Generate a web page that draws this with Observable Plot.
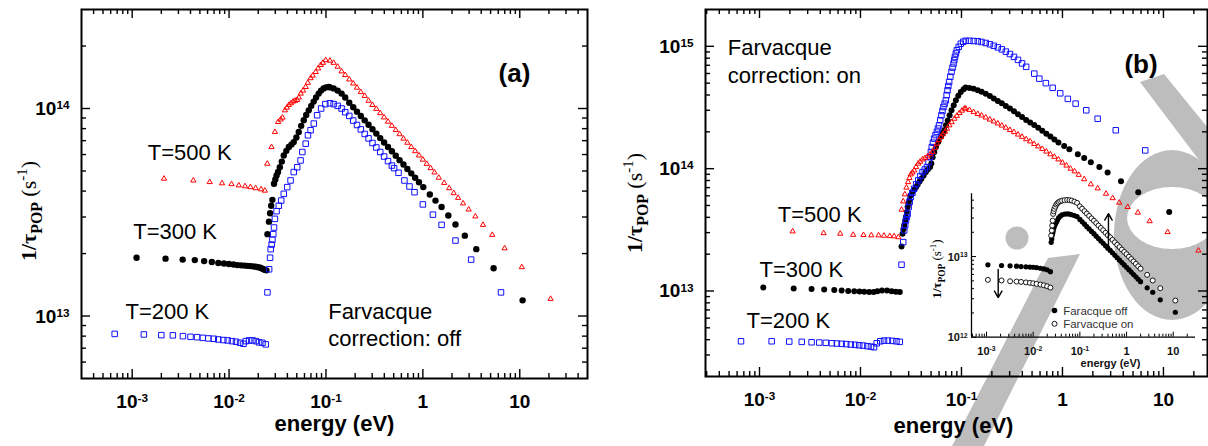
<!DOCTYPE html>
<html>
<head>
<meta charset="utf-8">
<script src="https://cdn.jsdelivr.net/npm/d3@7"></script>
<script src="https://cdn.jsdelivr.net/npm/@observablehq/plot@0.6"></script>
<style>
html,body{margin:0;padding:0;background:#fff;}
#root{position:relative;width:1208px;height:446px;overflow:hidden;background:#fff;}
.panel{position:absolute;top:0;}
#wm{left:0;width:1208px;height:446px;}
#pa{left:0;width:600px;height:446px;}
#pb{left:600px;width:608px;height:446px;}
#pi{left:900px;top:180px;width:300px;height:200px;}
svg{overflow:visible;}
</style>
</head>
<body>
<div id="root">
<svg id="wm" class="panel" width="1208" height="446" aria-hidden="true">
  <g fill="#bdbdbd" stroke="none">
    <circle cx="1017" cy="238" r="11.5"></circle>
    <polygon points="1048,258 1080,254 984,446 952,446"></polygon>
    <path fill-rule="evenodd" d="M1114,235 A58,85 0 1,1 1230,235 A58,85 0 1,1 1114,235 Z M1127,218 A45,31 0 1,0 1217,218 A45,31 0 1,0 1127,218 Z"></path>
    <polygon points="1140,82 1164,74 1208,128 1208,172"></polygon>
  </g>
</svg>
<div id="pa" class="panel"></div><div id="pb" class="panel"></div><div id="pi" class="panel"></div>
</div>
<script>
// ---------- tick values and labels ----------
const xTicks = [1e-3, 1e-2, 1e-1, 1, 10];
const xTickLabels = ["10^-3", "10^-2", "10^-1", "1", "10"];
const aYTicks = [1e13, 1e14];
const aYTickLabels = ["10^13", "10^14"];
const bYTicks = [1e13, 1e14, 1e15];
const bYTickLabels = ["10^13", "10^14", "10^15"];
const iYTicks = [1e12, 1e13];
const iYTickLabels = ["10^12", "10^13"];

// ---------- panel (a): Farvacque correction off (rates in units of 1e13 s^-1) ----------
const a500LoE = [0.00213,0.00428,0.00631,0.00846,0.0106,0.0126,0.0146,0.0166,0.0188,0.0214,0.0234];
const a500LoR = [4.59,4.50,4.42,4.36,4.32,4.26,4.22,4.18,4.13,4.08,4.02];
const a500RiseE = [0.0248,0.0274,0.0297,0.0321,0.0340,0.0356,0.0377,0.0395,0.0414,0.0435,0.0458,0.0480,0.0505,0.0525,0.0549,0.0580,0.0618,0.0650,0.0694,0.0730,0.0783,0.0830,0.0882,0.0930,0.0993];
const a500RiseR = [5.42,6.52,7.71,8.61,8.85,9.04,9.80,10.1,10.4,10.6,10.8,10.9,11.0,11.3,11.8,12.2,12.7,13.3,14.0,14.4,15.0,15.6,16.2,16.6,17.1];
const a500FallR = [17.0,16.6,15.9,15.1,14.5,13.8,13.2,12.6,12.0,11.5,10.9,10.4,9.96,9.50,9.06,8.64,8.25,7.87,7.52,7.16,6.84,6.52,6.23,5.94,5.67,5.41,5.16,4.92];
const a500TailE = [1.46,1.66,1.87,2.08,2.31,2.60,2.97,3.48,4.17,5.20,6.97,10.5,20.8];
const a500TailR = [4.64,4.38,4.13,3.91,3.71,3.49,3.26,3.02,2.75,2.46,2.12,1.72,1.21];

const a300LoE = [0.00111,0.00221,0.00332,0.00443,0.00553,0.00664,0.00775,0.00885,0.00996,0.0111,0.0122,0.0133,0.0144,0.0155,0.0166,0.0177,0.0188,0.0199,0.0210,0.0221,0.0232,0.0243];
const a300LoR = [1.91,1.89,1.87,1.86,1.84,1.82,1.80,1.79,1.78,1.77,1.76,1.755,1.75,1.745,1.74,1.735,1.73,1.72,1.71,1.69,1.67,1.66];
const a300RiseE = [0.0249,0.0258,0.0265,0.0272,0.0280,0.0291,0.0300,0.0309,0.0320,0.0334,0.0350,0.0367,0.0390,0.0414,0.0440,0.0465,0.0495,0.0524,0.0555,0.0590,0.0625,0.0664,0.0705,0.0747,0.0790,0.0841,0.0890,0.0946,0.100,0.107];
const a300RiseR = [2.48,2.85,3.13,3.40,3.63,4.34,4.55,4.76,4.95,5.21,5.55,5.94,6.25,6.52,6.70,6.89,7.25,7.71,8.25,8.78,9.30,9.80,10.3,10.8,11.3,11.8,12.2,12.5,12.65,12.7];
const a300FallR = [12.65,12.5,12.2,11.8,11.3,10.66,10.14,9.66,9.21,8.77,8.35,7.95,7.57,7.20,6.86,6.52,6.22,5.92,5.64,5.37,5.11,4.87,4.64,4.41];
const a300TailE = [1.01,1.18,1.35,1.56,1.83,2.17,2.71,3.56,5.37,10.7];
const a300TailR = [4.18,3.85,3.60,3.35,3.05,2.76,2.44,2.10,1.70,1.19];

const a200LoE = [0.00066,0.00132,0.0020,0.00263,0.00334,0.0040,0.00468,0.00535,0.00611,0.00695,0.00774,0.00873,0.00967,0.0107,0.0118,0.0130,0.0141,0.0149,0.0161,0.0174,0.0189,0.0204,0.0221,0.0239];
const a200LoR = [0.820,0.815,0.809,0.807,0.800,0.794,0.791,0.785,0.780,0.777,0.771,0.766,0.763,0.757,0.752,0.743,0.735,0.757,0.763,0.763,0.757,0.747,0.743,0.730];
const a200RiseE = [0.0249,0.0259,0.0265,0.0269,0.0275,0.0280,0.0286,0.0291,0.0297,0.0309,0.0326,0.0345,0.0367,0.0398,0.0431,0.0465,0.0505,0.0547,0.0570,0.0618,0.0652,0.0694,0.0749,0.0811,0.0891,0.0985];
const a200RiseR = [1.30,1.68,1.91,2.10,2.21,2.33,2.48,2.67,2.94,3.20,3.40,3.60,3.88,4.18,4.50,4.94,5.21,5.62,6.17,6.77,7.43,7.86,8.46,9.28,10.0,10.5];
const a200FallR = [10.6,10.5,10.3,10.0,9.6,9.21,8.75,8.33,7.93,7.54,7.18,6.82,6.49,6.17,5.87,5.58,5.31];
const a200TailE = [0.505,0.561,0.645,0.728,0.82,1.0,1.27,1.56,2.17,3.15,6.4];
const a200TailR = [5.16,4.90,4.50,4.21,3.95,3.45,3.08,2.75,2.31,1.87,1.30];

// shared energy grid (eV) for the falling parts of the main curves
const fallE = [0.110,0.120,0.132,0.145,0.158,0.174,0.191,0.209,0.229,0.251,0.275,0.302,0.331,0.363,0.398,0.437,0.479,0.525,0.575,0.631,0.692,0.759,0.832,0.912,1.000,1.096,1.202,1.318];

// ---------- panel (b): Farvacque correction on (units of 1e13 s^-1) ----------
const b500LoE = [0.00213,0.00431,0.0063,0.00847,0.0107,0.0128,0.0151,0.0171,0.0195,0.0215,0.0237];
const b500LoR = [3.07,2.97,2.94,2.88,2.87,2.85,2.85,2.83,2.81,2.80,2.75];
const b500RiseE = [0.0255,0.0265,0.0275,0.0285,0.0296,0.0305,0.0315,0.0327,0.0340,0.0355,0.0373,0.0390,0.0412,0.0435,0.0461,0.0490,0.0518,0.0545,0.0571,0.0600,0.0627,0.0655,0.0688,0.0720,0.0759,0.0800,0.0852,0.0900,0.0955,0.101,0.107];
const b500RiseR = [4.62,5.4,6.17,7.0,7.76,8.4,8.98,9.3,9.68,10.3,11.0,11.4,11.9,12.2,12.6,13.1,13.7,14.8,16.0,17.1,18.2,19.1,20.0,21.2,22.6,24.0,25.6,27.0,28.5,29.8,31.0];
const b500FallR = [31.0,30.2,29.0,28.0,27.2,26.2,25.2,24.3,23.4,22.5,21.6,20.7,19.9,19.0,18.2,17.4,16.7,15.9,15.2,14.5,13.8,13.1,12.5,11.9,11.2,10.6,10.0,9.5];
const b500TailE = [1.45,1.64,1.91,2.23,2.70,3.14,3.65,4.42,5.58,7.31,11.0,22.2];
const b500TailR = [8.9,8.2,7.45,6.9,6.24,5.74,5.27,4.86,4.37,3.72,3.03,2.14];

const b300LoE = [0.00109,0.00218,0.00328,0.00437,0.0055,0.00651,0.00756,0.00868,0.00979,0.0109,0.0122,0.0135,0.0147,0.0163,0.0183,0.0203,0.0224,0.0245];
const b300LoR = [1.07,1.05,1.04,1.03,1.02,1.01,1.00,0.995,0.99,0.985,0.98,0.98,0.995,1.01,1.01,0.995,0.985,0.98];
const b300RiseE = [0.0255,0.0261,0.0266,0.0271,0.0277,0.0282,0.0288,0.0293,0.0299,0.0305,0.0314,0.0326,0.0340,0.0354,0.0368,0.0385,0.0401,0.0422,0.0444,0.0466,0.0489,0.0503,0.0518,0.0538,0.0558,0.0590,0.0627,0.0652,0.0676,0.0703,0.0731,0.0763,0.0797,0.0838,0.0880,0.0930,0.0985,0.105];
const b300RiseR = [2.31,2.94,3.2,3.44,3.73,4.02,4.43,4.85,5.2,5.51,6.05,6.4,6.73,7.05,7.39,7.85,8.28,8.8,9.38,9.9,10.3,11.0,12.4,13.7,15.0,16.6,18.2,19.4,20.6,22.6,24.8,27.3,30.0,33.0,36.2,39.5,42.4,44.5];
const b300FallR = [46.0,45.7,45.0,43.8,42.6,41.0,39.2,37.5,35.8,34.2,32.6,31.0,29.4,27.9,26.4,25.0,23.8,22.7,21.6,20.4,19.3,18.3,17.3,16.4];
const b300TailE = [1.04,1.17,1.42,1.64,1.91,2.32,2.80,3.80,5.63,11.4];
const b300TailR = [15.3,14.4,13.1,12.2,11.3,10.3,9.3,7.9,6.4,4.42];

const b200LoE = [0.000656,0.00132,0.00197,0.00262,0.00328,0.00391,0.00454,0.00521,0.00584,0.00651,0.00722,0.00802,0.00886,0.00971,0.0106,0.0117,0.0127,0.0136,0.0145,0.0157,0.0171,0.0187,0.0207,0.0227,0.0245];
const b200LoR = [0.388,0.388,0.386,0.384,0.381,0.379,0.377,0.374,0.372,0.370,0.368,0.365,0.363,0.360,0.358,0.354,0.351,0.347,0.374,0.388,0.393,0.393,0.391,0.388,0.384];
const b200RiseE = [0.0255,0.0265,0.0271,0.0277,0.0282,0.0288,0.0293,0.0300,0.0307,0.0314,0.0327,0.0340,0.0356,0.0373,0.0392,0.0412,0.0433,0.0455,0.0472,0.0489,0.0498,0.0508,0.0522,0.0536,0.0553,0.0571,0.0585,0.0600,0.0616,0.0633,0.0648,0.0663,0.0681,0.0700,0.0713,0.0727,0.0741,0.0755,0.0776,0.0797,0.0816,0.0835,0.0848,0.0862,0.0880,0.0900,0.0940,0.0985,0.104];
const b200RiseR = [1.64,2.51,3.13,3.45,3.78,4.03,4.28,4.85,5.35,5.86,6.35,6.85,7.45,8.02,8.7,9.38,9.85,10.3,11.3,12.4,13.7,15.0,16.3,17.6,18.8,20.0,21.3,22.6,24.9,27.3,29.6,31.9,34.0,36.2,39.9,43.7,47.4,51.2,56.5,61.8,67.0,72.3,77.1,81.9,87.4,92.9,99.0,105,109];
const b200FallR = [111,111,110.5,110,108.5,106.5,104,101,98,94.5,90.5,86.5,82,77.5,72.5,68];
const b200TailE = [0.526,0.59,0.685,0.80,0.95,1.13,1.35,1.72,2.23,3.37,6.6];
const b200TailR = [59.8,54.4,50.0,45.8,41.3,37.2,34.0,30.0,25.6,20.6,14.1];

// ---------- inset (units of 1e13 s^-1) ----------
const iLoE = [0.00107,0.0021,0.0032,0.0044,0.0055,0.0070,0.0085,0.0100,0.0118,0.0143,0.0169,0.0199,0.0234];
const iOffLoR = [0.790,0.775,0.767,0.760,0.752,0.745,0.740,0.737,0.730,0.716,0.703,0.684,0.650];
const iOnLoR = [0.514,0.505,0.494,0.490,0.485,0.478,0.472,0.466,0.458,0.450,0.440,0.428,0.412];
const iRiseE = [0.0243,0.0250,0.0255,0.0261,0.0267,0.0275,0.0284,0.0298,0.0314,0.0330,0.0350,0.0380,0.0416,0.0470,0.0534,0.0600,0.0670,0.0765,0.0872];
const iOffRiseR = [1.50,1.65,1.82,1.95,2.06,2.22,2.36,2.52,2.66,2.82,3.01,3.17,3.29,3.36,3.38,3.36,3.30,3.22,3.13];
const iOnRiseR = [1.82,2.10,2.42,2.79,3.38,3.65,3.90,4.15,4.41,4.58,4.73,4.85,4.94,5.00,5.04,5.00,4.94,4.80,4.63];
const iFallE = [0.100,0.112,0.126,0.141,0.158,0.178,0.200,0.224,0.251,0.282,0.316,0.355,0.398,0.447,0.501,0.562,0.631,0.708,0.794,0.891,1.000,1.122,1.259,1.413,1.585,1.778,1.995];
const iOffFallR = [2.89,2.70,2.52,2.35,2.20,2.05,1.92,1.79,1.67,1.56,1.46,1.36,1.27,1.19,1.11,1.035,0.967,0.903,0.843,0.787,0.736,0.687,0.642,0.599,0.560,0.523,0.488];
const iOnFallR = [4.19,3.92,3.65,3.41,3.19,2.97,2.78,2.60,2.42,2.26,2.12,1.97,1.84,1.73,1.61,1.50,1.40,1.31,1.22,1.14,1.07,0.996,0.931,0.869,0.812,0.758,0.708];
const iTailE = [2.76,3.64,5.28,11.1];
const iOffTailR = [0.409,0.361,0.291,0.204];
const iOnTailR = [0.593,0.505,0.405,0.285];
const iArrows = [
  {x1: 0.00178, y1: 6.9e12, x2: 0.00178, y2: 3.1e12},
  {x1: 0.41, y1: 1.29e13, x2: 0.41, y2: 3.41e13}
];

// ---------- helpers ----------
const U = 1e13;
const SANS = "'Liberation Sans', Arial, Helvetica, sans-serif";
const SERIF = "'Liberation Serif', 'Times New Roman', Times, serif";
const pts = (E, R) => E.map((e, i) => ({e, r: R[i] * U}));
const fall = (R, grid) => R.map((r, i) => ({e: grid[i], r: r * U}));

function minorTicks(lo, hi) {
  const out = [];
  for (let p = Math.floor(Math.log10(lo)) - 1; p <= Math.ceil(Math.log10(hi)); p++)
    for (let m = 2; m <= 9; m++) { const v = m * Math.pow(10, p); if (v > lo * 1.001 && v < hi * 0.999) out.push(v); }
  return out;
}
function tickMarks(xDom, yDom, iw, ih, maj, min, sides, sw) {
  const xMaj = xTicks.filter(v => v > xDom[0] && v < xDom[1]);
  const yMaj = [1e12, 1e13, 1e14, 1e15].filter(v => v > yDom[0] * 1.001 && v < yDom[1] * 0.999);
  const xMin = minorTicks(xDom[0], xDom[1]);
  const yMin = minorTicks(yDom[0], yDom[1]);
  const st = {stroke: "black", strokeWidth: sw};
  const m = [];
  if (sides.includes("b")) m.push(Plot.tickX(xMaj, {x: d => d, insetTop: ih - maj, ...st}), Plot.tickX(xMin, {x: d => d, insetTop: ih - min, ...st}));
  if (sides.includes("t")) m.push(Plot.tickX(xMaj, {x: d => d, insetBottom: ih - maj, ...st}), Plot.tickX(xMin, {x: d => d, insetBottom: ih - min, ...st}));
  if (sides.includes("l")) m.push(Plot.tickY(yMaj, {y: d => d, insetRight: iw - maj, ...st}), Plot.tickY(yMin, {y: d => d, insetRight: iw - min, ...st}));
  if (sides.includes("r")) m.push(Plot.tickY(yMaj, {y: d => d, insetLeft: iw - maj, ...st}), Plot.tickY(yMin, {y: d => d, insetLeft: iw - min, ...st}));
  return m;
}
function supify(svg) {
  d3.select(svg).selectAll("text").each(function () {
    const t = this.textContent;
    const m = t.match(/^(.*)\^(.+)$/);
    if (!m) return;
    this.textContent = "";
    const s = d3.select(this);
    s.append("tspan").text(m[1]);
    s.append("tspan").attr("dy", "-0.5em").attr("font-size", "0.62em").text(m[2]);
  });
}
function yLabel(svg, x, y, fs) {
  const t = d3.select(svg).append("text")
    .attr("transform", `translate(${x},${y}) rotate(-90)`)
    .attr("text-anchor", "middle").attr("font-family", SERIF).attr("font-size", fs).attr("fill", "black");
  t.append("tspan").attr("font-weight", "bold").text("1/\u03c4");
  t.append("tspan").attr("font-weight", "bold").attr("font-size", fs * 0.72).attr("dy", fs * 0.28).text("POP");
  t.append("tspan").attr("dy", -fs * 0.28).text(" (s");
  t.append("tspan").attr("font-size", fs * 0.68).attr("dy", -fs * 0.42).text("-1");
  t.append("tspan").attr("dy", fs * 0.42).text(")");
}
function ann(txt, dx, dy, o = {}) {
  return Plot.text([txt], {text: d => d, frameAnchor: "top-left", dx, dy, textAnchor: "start", lineAnchor: "bottom",
    fontSize: 22, fill: "black", fontFamily: SANS, ...o});
}

function mainPanel(c) {
  const W = c.width, H = 446;
  const iw = W - c.mL - c.mR, ih = H - c.mT - c.mB;
  const plot = Plot.plot({
    width: W, height: H, marginLeft: c.mL, marginRight: c.mR, marginTop: c.mT, marginBottom: c.mB,
    x: {type: "log", domain: c.xDom, axis: null},
    y: {type: "log", domain: c.yDom, axis: null},
    style: {background: "transparent", fontFamily: SANS, overflow: "visible"},
    marks: [
      ...tickMarks(c.xDom, c.yDom, iw, ih, 9, 5, "btlr", 1.4),
      Plot.frame({stroke: "black", strokeWidth: 2}),
      ...c.dataMarks,
      Plot.text(xTicks.filter(v => v > c.xDom[0] && v < c.xDom[1]), {x: d => d, text: (d) => xTickLabels[xTicks.indexOf(d)], frameAnchor: "bottom",
        dy: c.xLabDy, lineAnchor: "bottom", fontSize: 19, fontWeight: "bold", fill: "black"}),
      Plot.text(c.yTicks, {y: d => d, text: (d, i) => c.yLabels[i], frameAnchor: "left", dx: -12, dy: 6.5,
        textAnchor: "end", lineAnchor: "bottom", fontSize: 19, fontWeight: "bold", fill: "black"}),
      Plot.text(["energy (eV)"], {text: d => d, frameAnchor: "bottom", dx: c.eDx, dy: c.eDy, lineAnchor: "bottom",
        fontSize: 22, fontWeight: "bold", fill: "black"}),
      ...c.anns
    ]
  });
  supify(plot);
  yLabel(plot, c.yLabX, c.yLabY, 22);
  return plot;
}

const red = "#ff0000", blue = "#1010ff";
function triDots(data) { return Plot.dot(data, {x: "e", y: "r", symbol: "triangle", r: 1.95, stroke: red, fill: "none", strokeWidth: 1}); }
function sqDots(data) { return Plot.dot(data, {x: "e", y: "r", symbol: "square", r: 3.1, stroke: blue, fill: "none", strokeWidth: 1}); }
function cirDots(data, r) { return Plot.dot(data, {x: "e", y: "r", r, fill: "black", stroke: "none"}); }

// ---------- panel (a) ----------
const A500 = [...pts(a500LoE, a500LoR), ...pts(a500RiseE, a500RiseR), ...fall(a500FallR, fallE), ...pts(a500TailE, a500TailR)];
const A300 = [...pts(a300LoE, a300LoR), ...pts(a300RiseE, a300RiseR), ...fall(a300FallR, fallE), ...pts(a300TailE, a300TailR)];
const A200 = [...pts(a200LoE, a200LoR), ...pts(a200RiseE, a200RiseR), ...fall(a200FallR, fallE), ...pts(a200TailE, a200TailR)];

const plotA = mainPanel({
  width: 600, mL: 81, mR: 13, mT: 9, mB: 68,
  xDom: [3e-4, 50], yDom: [5e12, 3e14],
  yTicks: aYTicks, yLabels: aYTickLabels,
  xLabDy: 29, eDx: 0, eDy: 52, yLabX: 36, yLabY: 211,
  dataMarks: [triDots(A500), cirDots(A300, 3.2), sqDots(A200)],
  anns: [
    ann("(a)", 433, 72.5, {textAnchor: "middle", fontSize: 26, fontWeight: "bold"}),
    ann("T=500 K", 66.3, 150.3),
    ann("T=300 K", 51.7, 229.3),
    ann("T=200 K", 44, 309),
    ann("Farvacque", 246.7, 309.3),
    ann("correction: off", 246.7, 336)
  ]
});
document.getElementById("pa").appendChild(plotA);

// ---------- panel (b) ----------
const B500 = [...pts(b500LoE, b500LoR), ...pts(b500RiseE, b500RiseR), ...fall(b500FallR, fallE), ...pts(b500TailE, b500TailR)];
const B300 = [...pts(b300LoE, b300LoR), ...pts(b300RiseE, b300RiseR), ...fall(b300FallR, fallE), ...pts(b300TailE, b300TailR)];
const B200 = [...pts(b200LoE, b200LoR), ...pts(b200RiseE, b200RiseR), ...fall(b200FallR, fallE), ...pts(b200TailE, b200TailR)];

const plotB = mainPanel({
  width: 608, mL: 105, mR: 1, mT: 9, mB: 70,
  xDom: [2.92e-4, 27.3], yDom: [2e12, 2e15],
  yTicks: bYTicks, yLabels: bYTickLabels,
  xLabDy: 29, eDx: -3, eDy: 56, yLabX: 42, yLabY: 203,
  dataMarks: [cirDots(B300, 3.0), sqDots(B200), triDots(B500)],
  anns: [
    ann("(b)", 435.5, 63.8, {textAnchor: "middle", fontSize: 26, fontWeight: "bold"}),
    ann("Farvacque", 22.3, 45),
    ann("correction: on", 22.3, 73.7),
    ann("T=500 K", 72.3, 212.7),
    ann("T=300 K", 54, 267),
    ann("T=200 K", 41, 318.7)
  ]
});
document.getElementById("pb").appendChild(plotB);

// ---------- inset ----------
const IOFF = [...pts(iLoE, iOffLoR), ...pts(iRiseE, iOffRiseR), ...fall(iOffFallR, iFallE), ...pts(iTailE, iOffTailR)];
const ION = [...pts(iLoE, iOnLoR), ...pts(iRiseE, iOnRiseR), ...fall(iOnFallR, iFallE), ...pts(iTailE, iOnTailR)];
{
  const W = 300, H = 200, mL = 71, mR = 5, mT = 13.3, mB = 43.3;
  const iw = W - mL - mR, ih = H - mT - mB;
  const xDom = [4.77e-4, 30], yDom = [1e12, 6e13];
  const plotI = Plot.plot({
    width: W, height: H, marginLeft: mL, marginRight: mR, marginTop: mT, marginBottom: mB,
    x: {type: "log", domain: xDom, axis: null},
    y: {type: "log", domain: yDom, axis: null},
    style: {background: "transparent", fontFamily: SANS, overflow: "visible"},
    marks: [
      ...tickMarks(xDom, yDom, iw, ih, 5, 3, "bl", 1),
      Plot.tickY([1e12], {y: d => d, insetRight: iw - 5, stroke: "black", strokeWidth: 1}),
      Plot.ruleX([xDom[0]], {stroke: "black", strokeWidth: 1.3}),
      Plot.ruleY([yDom[0]], {stroke: "black", strokeWidth: 1.3}),
      Plot.dot(IOFF, {x: "e", y: "r", r: 2.6, fill: "black", stroke: "none"}),
      Plot.dot(ION, {x: "e", y: "r", r: 2.5, fill: "white", stroke: "black", strokeWidth: 0.9}),
      Plot.arrow(iArrows, {x1: "x1", y1: "y1", x2: "x2", y2: "y2", stroke: "black", strokeWidth: 1.4, headLength: 8}),
      Plot.text(xTicks, {x: d => d, text: (d, i) => xTickLabels[i], frameAnchor: "bottom", dy: 17.5, lineAnchor: "bottom",
        fontSize: 11, fontWeight: "bold", fill: "#111"}),
      Plot.text(iYTicks, {y: d => d, text: (d, i) => iYTickLabels[i], frameAnchor: "left", dx: -4, dy: 4, textAnchor: "end",
        lineAnchor: "bottom", fontSize: 11, fontWeight: "bold", fill: "#111"}),
      Plot.text(["energy (eV)"], {text: d => d, frameAnchor: "bottom-left", dx: 139, dy: 30, textAnchor: "middle",
        lineAnchor: "bottom", fontSize: 11, fontWeight: "bold", fill: "#111"}),
      Plot.dot([0], {frameAnchor: "top-left", dx: 83, dy: 116.7, r: 2.8, fill: "black"}),
      Plot.dot([0], {frameAnchor: "top-left", dx: 83, dy: 130, r: 2.5, fill: "white", stroke: "black", strokeWidth: 0.9}),
      Plot.text(["Faracque off"], {text: d => d, frameAnchor: "top-left", dx: 91.7, dy: 121.2, textAnchor: "start",
        lineAnchor: "bottom", fontSize: 11.5, fill: "#333"}),
      Plot.text(["Farvacque on"], {text: d => d, frameAnchor: "top-left", dx: 91.7, dy: 134.5, textAnchor: "start",
        lineAnchor: "bottom", fontSize: 11.5, fill: "#333"})
    ]
  });
  supify(plotI);
  yLabel(plotI, 41, 89, 13);
  document.getElementById("pi").appendChild(plotI);
}
</script>
</body>
</html>
